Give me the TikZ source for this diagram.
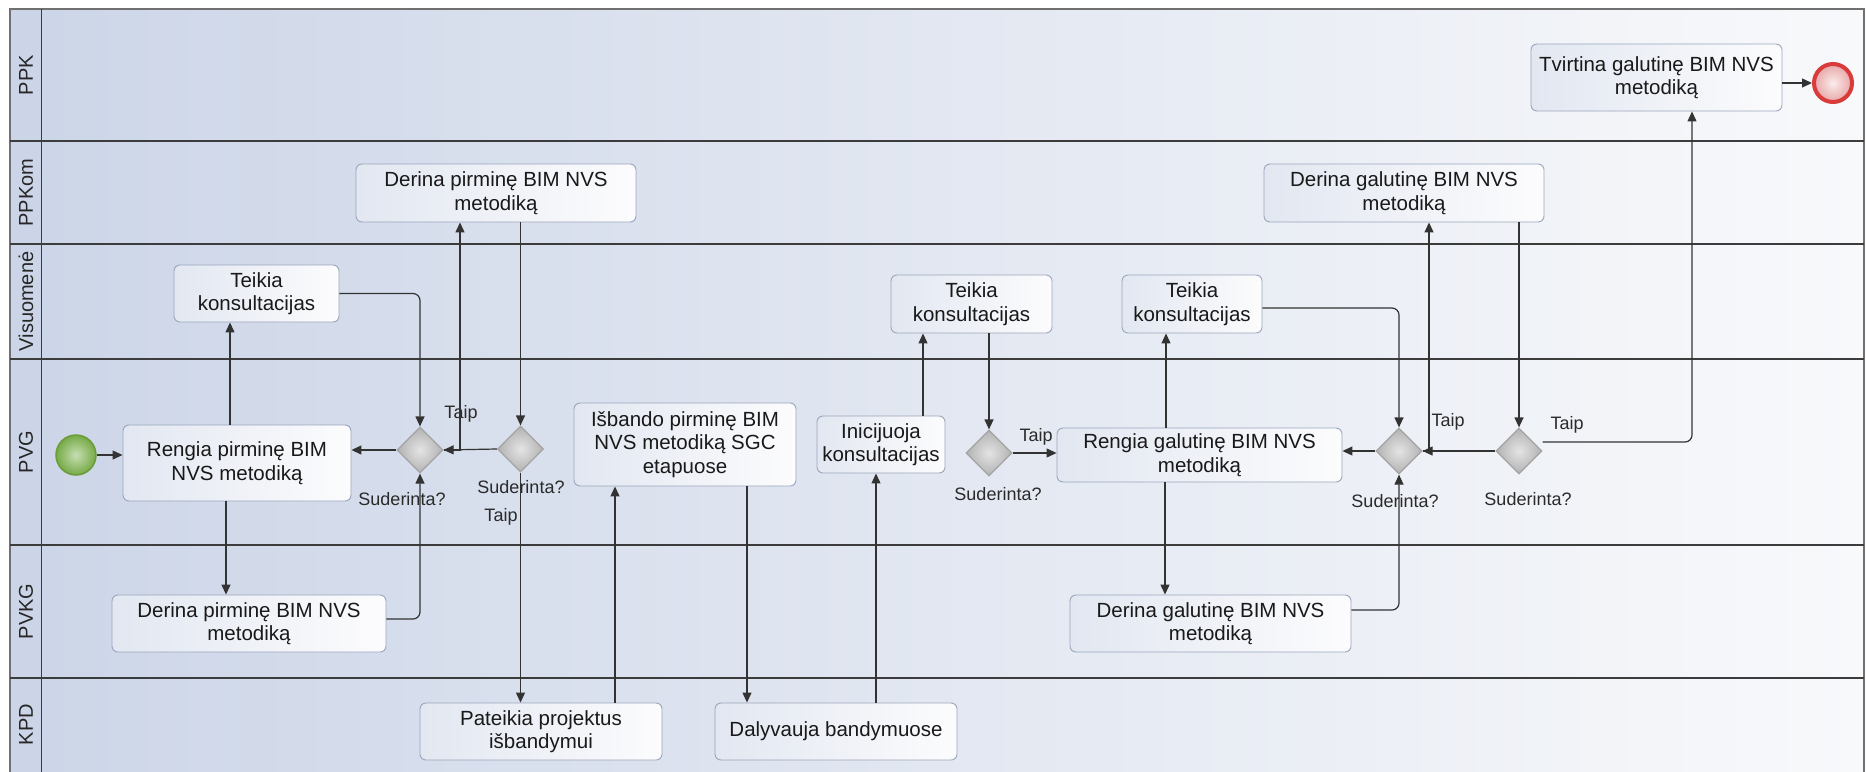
\documentclass[tikz,border=0pt]{standalone}
\usepackage{fontspec}
\setmainfont{Liberation Sans}
\usetikzlibrary{arrows.meta,shapes.geometric,calc}
\definecolor{poolL}{HTML}{CDD6E8}
\definecolor{poolR}{HTML}{F8F9FB}
\definecolor{headc}{HTML}{CCD5E7}
\definecolor{lanec}{HTML}{3C3C3C}
\definecolor{borderc}{HTML}{707070}
\definecolor{boxborder}{HTML}{9AA6BC}
\definecolor{boxL}{HTML}{E2E7F1}
\definecolor{boxR}{HTML}{FCFCFD}
\definecolor{gateborder}{HTML}{A4A4A4}
\definecolor{gateIn}{HTML}{E4E4E4}
\definecolor{gateOut}{HTML}{B2B2B2}
\definecolor{arrowc}{HTML}{333333}
\definecolor{labelc}{HTML}{2A2A2A}
\definecolor{startB}{HTML}{6A9C3A}
\definecolor{startIn}{HTML}{C6DEB2}
\definecolor{startOut}{HTML}{76AA46}
\definecolor{endB}{HTML}{D93A3A}
\definecolor{endIn}{HTML}{FBECEC}
\definecolor{endOut}{HTML}{E8A6A6}
\begin{document}
\begin{tikzpicture}[x=1pt,y=-1pt,
  task/.style={draw=boxborder, line width=0.9pt, rounded corners=6pt, left color=boxL, right color=boxR, align=center, font=\fontsize{20.5}{23.5}\selectfont, inner sep=0pt, text=black!90},
  gate/.style={diamond, draw=gateborder, line width=1.2pt, inner color=gateIn, outer color=gateOut, minimum width=46pt, minimum height=46pt, inner sep=0pt},
  flow/.style={draw=arrowc, line width=1.2pt, -{Triangle[length=10pt,width=9pt]}},
  rflow/.style={flow, rounded corners=7pt},
  lbl/.style={font=\fontsize{18}{20}\selectfont, text=labelc, inner sep=0pt},
  lanelbl/.style={font=\fontsize{20}{22}\selectfont, rotate=90, text=black!85, inner sep=0pt},
  laneline/.style={draw=lanec, line width=2.6pt},
]
\useasboundingbox (0,0) rectangle (1867,771);
\fill[white] (0,0) rectangle (1867,771);
% pool background
\shade[left color=poolL, right color=poolR] (41.5,9) rectangle (1864,775);
\fill[headc] (10,9) rectangle (41.5,775);
\draw[borderc, line width=1.5pt] (10,775) -- (10,9) -- (1864,9) -- (1864,775);
\draw[lanec, line width=1.8pt] (41.5,9) -- (41.5,775);
\draw[laneline] (10,141) -- (1864,141);
\draw[laneline] (10,244) -- (1864,244);
\draw[laneline] (10,359) -- (1864,359);
\draw[laneline] (10,545) -- (1864,545);
\draw[laneline] (10,678) -- (1864,678);
% lane labels
\node[lanelbl] (lppk) at (26,75) {PPK};
\node[lanelbl] (lppkom) at (26,192.5) {PPKom};
\node[lanelbl] (lvis) at (26,301.5) {Visuomenė};
\node[lanelbl] (lpvg) at (26,452) {PVG};
\node[lanelbl] (lpvkg) at (26,611.5) {PVKG};
\node[lanelbl] (lkpd) at (26,724.5) {KPD};
% events
\node[circle, draw=startB, line width=1.5pt, inner color=startIn, outer color=startOut, minimum size=40pt, inner sep=0pt] (start) at (76,455) {};
\node[circle, draw=endB, line width=4pt, inner color=endIn, outer color=endOut, minimum size=38pt, inner sep=0pt] (end) at (1833,83) {};
% tasks
\node[task, minimum width=251pt, minimum height=67pt] (tv) at (1656.5,77.5) {Tvirtina galutinę BIM NVS\\metodiką};
\node[task, minimum width=280pt, minimum height=58pt] (dpp) at (496,193) {Derina pirminę BIM NVS\\metodiką};
\node[task, minimum width=280pt, minimum height=58pt] (dgp) at (1404,193) {Derina galutinę BIM NVS\\metodiką};
\node[task, minimum width=165pt, minimum height=57pt] (tk1) at (256.5,293.5) {Teikia\\konsultacijas};
\node[task, minimum width=161pt, minimum height=58pt] (tk2) at (971.5,304) {Teikia\\konsultacijas};
\node[task, minimum width=140pt, minimum height=58pt] (tk3) at (1192,304) {Teikia\\konsultacijas};
\node[task, minimum width=228pt, minimum height=76pt] (rpp) at (237,463) {Rengia pirminę BIM\\NVS metodiką};
\node[task, minimum width=222pt, minimum height=83pt] (isb) at (685,444.5) {Išbando pirminę BIM\\NVS metodiką SGC\\etapuose};
\node[task, minimum width=128pt, minimum height=57pt] (inic) at (881,444.5) {Inicijuoja\\konsultacijas};
\node[task, minimum width=285pt, minimum height=54pt] (rgp) at (1199.5,455) {Rengia galutinę BIM NVS\\metodiką};
\node[task, minimum width=274pt, minimum height=57pt] (dppv) at (249,623.5) {Derina pirminę BIM NVS\\metodiką};
\node[task, minimum width=281pt, minimum height=57pt] (dgpv) at (1210.5,623.5) {Derina galutinę BIM NVS\\metodiką};
\node[task, minimum width=242pt, minimum height=57pt] (pat) at (541,731.5) {Pateikia projektus\\išbandymui};
\node[task, minimum width=242pt, minimum height=57pt] (daly) at (836,731.5) {Dalyvauja bandymuose};
% gateways
\node[gate] (gw1) at (420,450) {};
\node[gate] (gw2) at (520.5,449) {};
\node[gate] (gw3) at (989,453) {};
\node[gate] (gw4) at (1399,451) {};
\node[gate] (gw5) at (1519,451) {};
% labels
\node[lbl] (s1) at (402,499) {Suderinta?};
\node[lbl] (s2) at (521,487) {Suderinta?};
\node[lbl] (s3) at (998,494) {Suderinta?};
\node[lbl] (s4) at (1395,501) {Suderinta?};
\node[lbl] (s5) at (1528,499) {Suderinta?};
\node[lbl] (t1) at (461,414) {Taip};
\node[lbl] (t2) at (501,517) {Taip};
\node[lbl] (t3) at (1036,437) {Taip};
\node[lbl] (t4) at (1448,422) {Taip};
\node[lbl] (t5) at (1567,425) {Taip};
% connectors
\draw[flow] (start.east) -- (start.east -| rpp.west);
\draw[flow] ([xshift=-7pt]rpp.north) -- ([xshift=-7pt]rpp.north |- tk1.south);
\draw[flow] ([xshift=-11pt]rpp.south) -- ([xshift=-11pt]rpp.south |- dppv.north);
\draw[rflow] (tk1.east) -| (gw1.north);
\draw[rflow] ([yshift=4.5pt]dppv.east) -| (gw1.south);
\draw[flow] (gw1.west) -- (gw1.west -| rpp.east);
\draw[flow] (gw1.east) -| ([xshift=-36pt]dpp.south);
\draw[flow] (dpp.south -| gw2.north) -- (gw2.north);
\draw[flow] (gw2.west) -- (gw1.east);
\draw[flow] (gw2.south) -- (gw2.south |- pat.north);
\draw[flow] ([xshift=74pt]pat.north) -- ([xshift=74pt]pat.north |- isb.south);
\draw[flow] ([xshift=62pt]isb.south) -- ([xshift=62pt]isb.south |- daly.north);
\draw[flow] ([xshift=40pt]daly.north) -- ([xshift=40pt]daly.north |- inic.south);
\draw[flow] ([xshift=42pt]inic.north) -- ([xshift=42pt]inic.north |- tk2.south);
\draw[flow] (tk2.south -| gw3.north) -- (gw3.north);
\draw[flow] (gw3.east) -- (gw3.east -| rgp.west);
\draw[flow] ([xshift=-33.5pt]rgp.north) -- ([xshift=-33.5pt]rgp.north |- tk3.south);
\draw[flow] ([xshift=-34.5pt]rgp.south) -- ([xshift=-34.5pt]rgp.south |- dgpv.north);
\draw[rflow] ([yshift=-4pt]tk3.east) -| (gw4.north);
\draw[rflow] ([yshift=13.5pt]dgpv.east) -| (gw4.south);
\draw[flow] (gw4.west) -- (gw4.west -| rgp.east);
\draw[flow] (gw4.east) -| ([xshift=25pt]dgp.south);
\draw[flow] (dgp.south -| gw5.north) -- (gw5.north);
\draw[flow] (gw5.west) -- (gw4.east);
\draw[rflow] ([yshift=9pt]gw5.east) -| ([xshift=35.5pt]tv.south);
\draw[flow] (end.west -| tv.east) -- (end.west);
\end{tikzpicture}
\end{document}
